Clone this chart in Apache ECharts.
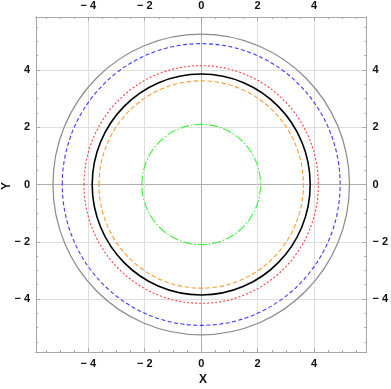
<!DOCTYPE html>
<html><head><meta charset="utf-8">
<script src="https://cdn.jsdelivr.net/npm/echarts@6/dist/echarts.min.js"></script>
<style>html,body{margin:0;padding:0;background:#fff}#c{width:391px;height:389px}</style>
</head><body><div id="c"></div>
<script>
// ---- data ----
const curveNames = ['gray', 'blue', 'red', 'black', 'orange', 'green'];
const radii = [5.25, 4.92, 4.15, 3.86, 3.62, 2.1];
const axisMin = -5.85, axisMax = 5.85;
const majorTicks = [-4, -2, 0, 2, 4];
const minorTicks = [-5.5, -5, -4.5, -3.5, -3, -2.5, -1.5, -1, -0.5, 0.5, 1, 1.5, 2.5, 3, 3.5, 4.5, 5, 5.5];
const zeroLine = [0];

// ---- styles ----
const styles = {
  gray:   { color: '#8a8a8a', width: 1.2, dash: null },
  blue:   { color: '#3a3aff', width: 1.1, dash: [4, 2.5] },
  red:    { color: '#ff3b3b', width: 1.1, dash: [2, 2] },
  black:  { color: '#000000', width: 1.6, dash: null },
  orange: { color: '#ff9a33', width: 1.1, dash: [4.5, 2.5] },
  green:  { color: '#3ef03e', width: 1.1, dash: [9, 2, 1.5, 2] }
};

const fmt = v => v < 0 ? '\u2212 ' + Math.abs(v) : String(v);
const frameColor = '#a8a8a8';
const labelStyle = { color: '#111', fontFamily: 'Liberation Sans', fontWeight: 'bold', fontSize: 11 };

function ax(pos, kind) {
  const major = kind === 'major', zero = kind === 'zero';
  return {
    type: 'value', position: pos, min: axisMin, max: axisMax,
    axisLine: { show: !zero, onZero: false, lineStyle: { color: frameColor, width: 1 } },
    axisTick: { show: !zero, inside: true, length: major ? 4 : 2,
      customValues: zero ? zeroLine : (major ? majorTicks : minorTicks),
      lineStyle: { color: frameColor } },
    axisLabel: { show: major, customValues: majorTicks, formatter: fmt, margin: 6, ...labelStyle },
    splitLine: { show: major || zero, lineStyle: { color: zero ? '#b0b0b0' : '#dedede', width: 1 } },
    minorTick: { show: false }
  };
}

const chart = echarts.init(document.getElementById('c'), null, { renderer: 'canvas' });

const series = curveNames.map((name, i) => ({
  type: 'custom', name: name, coordinateSystem: 'cartesian2d',
  xAxisIndex: 0, yAxisIndex: 0,
  data: [[0, 0, radii[i]]],
  z: 10 + i,
  renderItem: function (params, api) {
    const c = api.coord([api.value(0), api.value(1)]);
    const s = api.size([api.value(2), api.value(2)]);
    const st = styles[name];
    return {
      type: 'ellipse',
      shape: { cx: c[0], cy: c[1], rx: s[0], ry: s[1] },
      style: { fill: 'none', stroke: st.color, lineWidth: st.width, lineDash: st.dash || null }
    };
  }
}));

const xAxes = [ax('bottom', 'major'), ax('bottom', 'minor'), ax('top', 'major'), ax('top', 'minor'), ax('bottom', 'zero')];
const yAxes = [ax('left', 'major'), ax('left', 'minor'), ax('right', 'major'), ax('right', 'minor'), ax('left', 'zero')];

chart.setOption({
  animation: false,
  backgroundColor: '#fff',
  grid: { left: 36, top: 16, width: 337, height: 336, containLabel: false },
  xAxis: xAxes,
  yAxis: yAxes,
  graphic: [
    { type: 'text', left: 199, top: 374, style: { text: 'X', fill: '#111', font: 'bold 12px "Liberation Sans"' } },
    { type: 'text', x: 1, y: 190, rotation: Math.PI / 2, style: { text: 'Y', fill: '#111', font: 'bold 12px "Liberation Sans"' } }
  ],
  series: series
});
</script>
</body></html>
